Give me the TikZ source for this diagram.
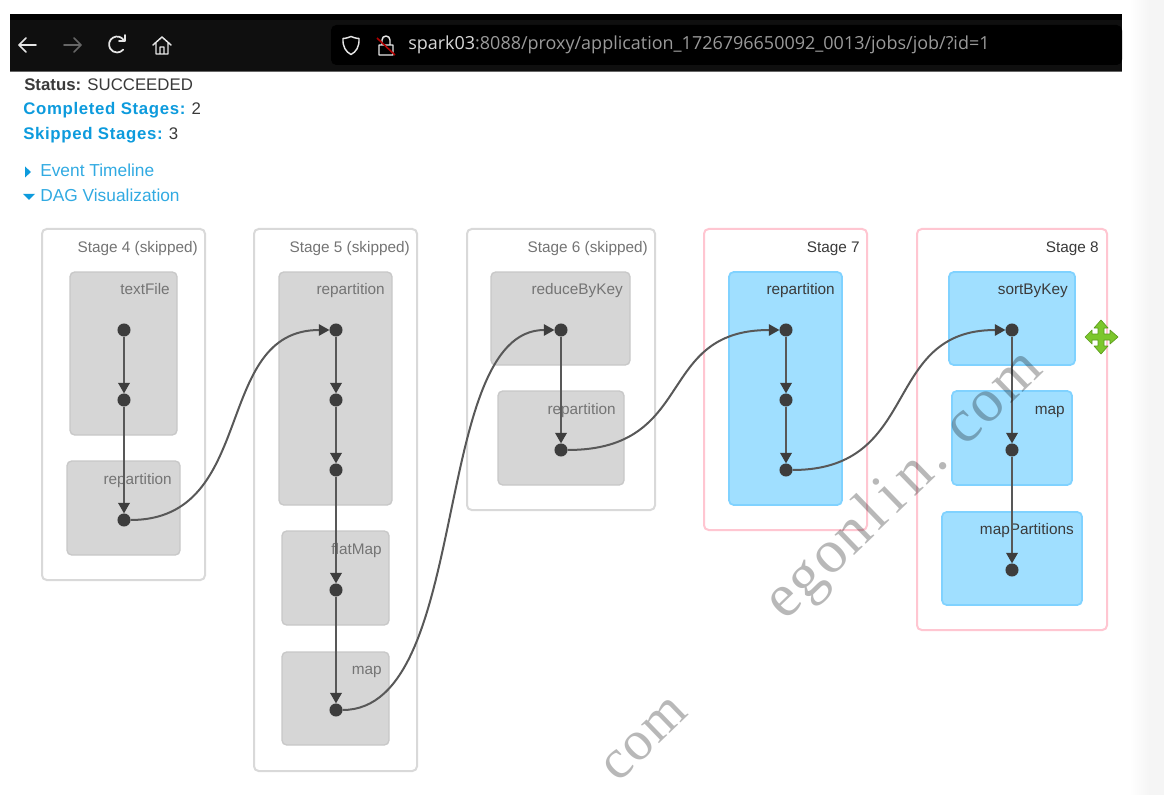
\documentclass[tikz,border=0pt]{standalone}
\usepackage{fontspec}
\setmainfont{Liberation Sans}
\newfontfamily\wmfont[LetterSpace=3]{Liberation Serif}
\newfontfamily\urlfont{Open Sans}
\newfontfamily\boldspaced[LetterSpace=4]{Liberation Sans}
\usetikzlibrary{arrows.meta,shadings}
\definecolor{skipline}{HTML}{D9D9D9}
\definecolor{pinkline}{HTML}{FFC6D1}
\definecolor{grayfill}{HTML}{D6D6D6}
\definecolor{grayline}{HTML}{C8C8C8}
\definecolor{bluefill}{HTML}{A0DFFF}
\definecolor{blueline}{HTML}{80D2FF}
\definecolor{linkblue}{HTML}{0D9BDD}
\definecolor{edgeline}{HTML}{585858}
\definecolor{dotcol}{HTML}{3D3D3D}
\definecolor{labgray}{HTML}{747474}
\definecolor{labdark}{HTML}{3A3A3A}
\definecolor{barleft}{HTML}{0F0F0F}
\definecolor{urlgray}{HTML}{9A9A9A}
\definecolor{movegreen}{HTML}{7CC72C}
\definecolor{moveedge}{HTML}{5C9C1C}
\tikzset{
  x=0.75pt,y=-0.75pt,
  boxbase/.style 2 args={minimum width=#1*0.75pt,minimum height=#2*0.75pt,anchor=north west,inner sep=0pt,outer sep=0pt,rounded corners=3.5pt},
  skipstage/.style 2 args={boxbase={#1}{#2},draw=skipline,line width=1.5pt,fill=white},
  runstage/.style 2 args={boxbase={#1}{#2},draw=pinkline,line width=1.5pt,fill=white},
  graybox/.style 2 args={boxbase={#1}{#2},draw=grayline,line width=1pt,fill=grayfill},
  bluebox/.style 2 args={boxbase={#1}{#2},draw=blueline,line width=1.3pt,fill=bluefill},
  lab/.style={anchor=mid east,inner sep=0pt,font=\fontsize{11.5pt}{13pt}\selectfont},
  skiplab/.style={lab,text=labgray},
  runlab/.style={lab,text=labdark},
  dot/.style={circle,fill=dotcol,minimum size=9.8pt,inner sep=0pt,outer sep=0pt},
  edge/.style={draw=edgeline,line width=1.9pt,-{Triangle[length=8pt,width=8.5pt,color=dotcol]}},
  curveedge/.style={draw=edgeline,line width=1.5pt,-{Triangle[length=8pt,width=8.5pt,color=dotcol]}},
  pagetext/.style={anchor=mid west,inner sep=0pt,font=\fontsize{12.6pt}{14pt}\selectfont},
  linktext/.style={anchor=mid west,inner sep=0pt,font=\fontsize{13pt}{15pt}\selectfont,text=linkblue!85!white},
  wmark/.style={text=black,opacity=0.28,rotate=44,font=\wmfont\fontsize{46pt}{48pt}\selectfont,inner sep=0pt},
  icon/.style={draw=white!90!black,line width=1.3pt,line cap=round,line join=round},
}
\begin{document}
\begin{tikzpicture}
\useasboundingbox (0,0) rectangle (1164,795);
\fill[white] (0,0) rectangle (1164,795);
\shade[left color=white,right color=black!4] (1130,0) rectangle (1150,795);
\fill[black!4] (1150,0) rectangle (1164,795);
% browser bar
\fill[black] (10,14) rectangle (1122,72);
\fill[barleft] (10,20) rectangle (1122,71);
\fill[black!60] (10,71) rectangle (1122,72);
\fill[black,rounded corners=4pt] (331,25) rectangle (1122,65);
\draw[icon] (19,45) -- (36,45) (26,38) -- (19,45) -- (26,52);
\draw[icon,draw=black!60] (64,45) -- (81,45) (74,38) -- (81,45) -- (74,52);
\draw[icon] (124,40.5) arc (-30:-320:8) ;
\draw[icon] (125,35) -- (125,41) -- (119,41);
\draw[icon,line width=1.1pt] (153,45) -- (162,37) -- (171,45) (156,43) -- (156,54) -- (168,54) -- (168,43) (160,54) -- (160,47) -- (164,47) -- (164,54);
\draw[icon,line width=1.1pt] (351,36.5) .. controls (346,38.5) and (344,38.5) .. (343,38.5) .. controls (342.5,47) and (346,52) .. (351,54.5) .. controls (356,52) and (359.5,47) .. (359,38.5) .. controls (358,38.5) and (356,38.5) .. (351,36.5) -- cycle;
\draw[icon,line width=1.1pt] (379,45) rectangle (393,55) (382,45) -- (382,40) arc (180:360:4) -- (390,45);
\draw[draw=red!70!black,line width=1.2pt] (377,38) -- (395,55);
\node[anchor=mid west,inner sep=0pt,font=\urlfont\fontsize{13.48pt}{15pt}\selectfont,text=white!85!black] (url) at (408,46) {spark03\textcolor{urlgray}{:8088/proxy/application\_1726796650092\_0013/jobs/job/?id=1}};
% page text
\node[pagetext,text=labdark] (status) at (24,86.5) {\textbf{Status:} SUCCEEDED};
\node[pagetext,text=labdark] (completed) at (23,111) {\textcolor{linkblue}{\boldspaced\bfseries Completed Stages:} 2};
\node[pagetext,text=labdark] (skipped) at (23,136) {\textcolor{linkblue}{\boldspaced\bfseries Skipped Stages:} 3};
\node[linktext] (timeline) at (40,173) {Event Timeline};
\node[linktext] (dagvis) at (40,198) {DAG Visualization};
\fill[linkblue] (25,166.5) -- (31,172) -- (25,177.5) -- cycle;
\fill[linkblue] (23,194) -- (35,194) -- (29,200) -- cycle;
% stages
\node[skipstage={163}{351}] (st4) at (42,229) {};
\node[skipstage={163}{542}] (st5) at (254,229) {};
\node[skipstage={188}{281}] (st6) at (467,229) {};
\node[runstage={163}{301}] (st7) at (704,229) {};
\node[runstage={190}{401}] (st8) at (917,229) {};
\node[skiplab] (st4l) at (198,249) {Stage 4 (skipped)};
\node[skiplab] (st5l) at (410,249) {Stage 5 (skipped)};
\node[skiplab] (st6l) at (648,249) {Stage 6 (skipped)};
\node[runlab] (st7l) at (860,249) {Stage 7};
\node[runlab] (st8l) at (1099,249) {Stage 8};
% clusters
\node[graybox={107}{163}] (c1) at (70,272) {};
\node[graybox={113}{94}] (c2) at (67,461) {};
\node[graybox={113}{233}] (c3) at (279,272) {};
\node[graybox={107}{94}] (c4) at (282,531) {};
\node[graybox={107}{93}] (c5) at (282,652) {};
\node[graybox={139}{93}] (c6) at (491,272) {};
\node[graybox={126}{94}] (c7) at (498,391) {};
\node[bluebox={113}{233}] (c8) at (729,272) {};
\node[bluebox={126}{93}] (c9) at (949,272) {};
\node[bluebox={120}{94}] (c10) at (952,391) {};
\node[bluebox={140}{93}] (c11) at (942,512) {};
\node[skiplab] (c1l) at (170,291) {textFile};
\node[skiplab] (c2l) at (172,481) {repartition};
\node[skiplab] (c3l) at (385,291) {repartition};
\node[skiplab] (c4l) at (382,551) {flatMap};
\node[skiplab] (c5l) at (382,671) {map};
\node[skiplab] (c6l) at (623,291) {reduceByKey};
\node[skiplab] (c7l) at (616,411) {repartition};
\node[runlab] (c8l) at (835,291) {repartition};
\node[runlab] (c9l) at (1068,291) {sortByKey};
\node[runlab] (c10l) at (1065,411) {map};
\node[runlab] (c11l) at (1074,531) {mapPartitions};
% dots
\node[dot] (a1) at (124,330) {};
\node[dot] (a2) at (124,400) {};
\node[dot] (a3) at (124,520) {};
\node[dot] (b1) at (336,330) {};
\node[dot] (b2) at (336,400) {};
\node[dot] (b3) at (336,470) {};
\node[dot] (b4) at (336,590) {};
\node[dot] (b5) at (336,710) {};
\node[dot] (d1) at (561,330) {};
\node[dot] (d2) at (561,450) {};
\node[dot] (e1) at (786,330) {};
\node[dot] (e2) at (786,400) {};
\node[dot] (e3) at (786,470) {};
\node[dot] (f1) at (1012,330) {};
\node[dot] (f2) at (1012,450) {};
\node[dot] (f3) at (1012,570) {};
% edges
\draw[edge] (a1) -- (a2);
\draw[edge] (a2) -- (a3);
\draw[edge] (b1) -- (b2);
\draw[edge] (b2) -- (b3);
\draw[edge] (b3) -- (b4);
\draw[edge] (b4) -- (b5);
\draw[edge] (d1) -- (d2);
\draw[edge] (e1) -- (e2);
\draw[edge] (e2) -- (e3);
\draw[edge] (f1) -- (f2);
\draw[edge] (f2) -- (f3);
\draw[curveedge] (a3.east) .. controls +(128,0) and +(-118,0) .. (b1.west);
\draw[curveedge] (b5.east) .. controls +(130,0) and +(-125,0) .. (d1.west);
\draw[curveedge] (d2.east) .. controls +(130,0) and +(-125,0) .. (e1.west);
\draw[curveedge] (e3.east) .. controls +(130,0) and +(-125,0) .. (f1.west);
% watermark
\node[wmark] (wm1) at (905,486) {egon\kern3pt l\kern6pt i\kern6pt n\kern3pt.\kern3pt\ com};
\node[wmark,font=\wmfont\fontsize{42pt}{44pt}\selectfont] (wm2) at (645,740) {com};
% move cursor
\path[fill=movegreen,draw=moveedge,line width=0.5pt,line join=round] (1101,320) -- (1108,328) -- (1104,328) -- (1104,334) -- (1110,334) -- (1110,330) -- (1118,337) -- (1110,344) -- (1110,340) -- (1104,340) -- (1104,346) -- (1108,346) -- (1101,354) -- (1094,346) -- (1098,346) -- (1098,340) -- (1092,340) -- (1092,344) -- (1085,337) -- (1092,330) -- (1092,334) -- (1098,334) -- (1098,328) -- (1094,328) -- cycle;
\end{tikzpicture}
\end{document}
